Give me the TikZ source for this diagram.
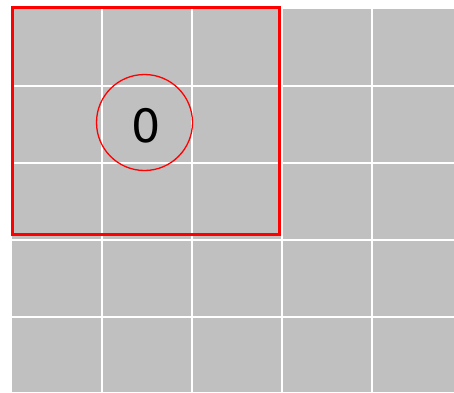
\documentclass[tikz,border=0pt]{standalone}
\usepackage{fontspec}
\setmainfont{DejaVu Sans}
\definecolor{cellgray}{RGB}{192,192,192}
\begin{document}
\begin{tikzpicture}[x=1pt,y=-1pt,
  gridline/.style={white,line width=2pt},
  framebox/.style={red,line width=3pt},
  ring/.style={circle,draw=red,line width=1.3pt,minimum size=96pt,inner sep=0pt}]
\useasboundingbox (0,0) rectangle (454,392);
\fill[cellgray] (12,9) rectangle (454,392);
\foreach \x in {101.5,191.5,281.5,371.5}
  \draw[gridline] (\x,9) -- (\x,392);
\foreach \y in {86,163,240,316.5}
  \draw[gridline] (12,\y) -- (454,\y);
\draw[framebox] (12,7) rectangle (279,234);
\node[ring,label={[font=\fontsize{46}{46}\selectfont,inner sep=0pt,xshift=1.5pt,yshift=-3pt]center:0}] (c0) at (144.5,122.5) {};
\end{tikzpicture}
\end{document}
